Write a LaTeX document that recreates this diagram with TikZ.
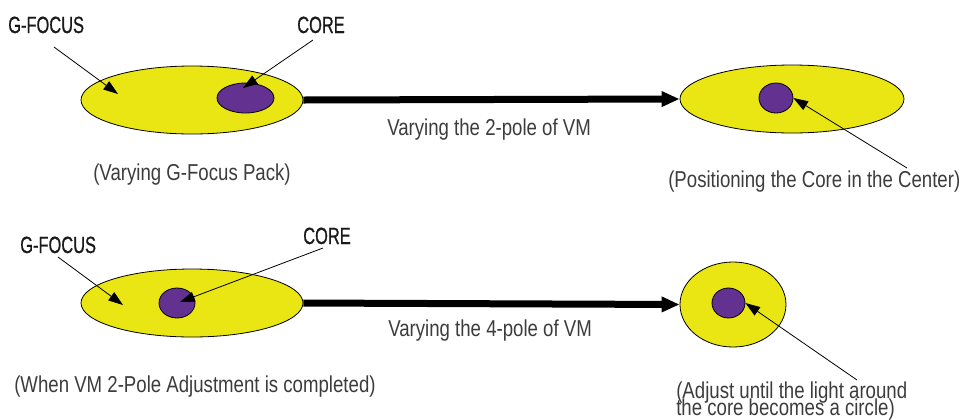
\documentclass[tikz,border=0pt]{standalone}
\usepackage{fontspec}
\setmainfont[FakeStretch=0.81]{Liberation Sans}
\newfontfamily\labfont[FakeStretch=0.7,FakeBold=0.8]{Liberation Sans}
\usetikzlibrary{shapes.geometric,arrows.meta}
\definecolor{gyellow}{RGB}{234,230,20}
\definecolor{cpurple}{RGB}{99,50,145}
\definecolor{bodytext}{RGB}{60,60,60}
\definecolor{labtext}{RGB}{25,25,25}
\newcommand\mytightlines{\lineskiplimit=-20pt\relax\lineskip=0pt\relax}
\begin{document}
\begin{tikzpicture}[x=0.75pt,y=-0.75pt,
  pack/.style={ellipse,draw=black,line width=0.6pt,fill=gyellow,inner sep=0pt},
  corebox/.style={ellipse,draw=black,line width=0.6pt,fill=cpurple,inner sep=0pt},
  labeltext/.style={inner sep=0pt,anchor=base west,text=labtext,font=\labfont\fontsize{17.6pt}{18pt}\selectfont},
  bodylabel/.style={inner sep=0pt,anchor=base west,text=bodytext,font=\fontsize{17.25pt}{12.75pt}\selectfont\mytightlines},
  pointer/.style={draw=black,line width=0.6pt,-{Triangle[length=11pt,width=7.5pt]}},
  bigarrow/.style={draw=black,line width=5.25pt,-{Triangle[length=13.5pt,width=11pt]}}]
\useasboundingbox (0,0) rectangle (965,419);

% Row 1
\node[pack,minimum width=166.5pt,minimum height=51pt] (g1) at (192,100) {};
\node[corebox,minimum width=42.75pt,minimum height=22.5pt] (c1) at (245.5,98) {};
\node[pack,minimum width=168pt,minimum height=51pt] (g2) at (792,99) {};
\node[corebox,minimum width=25.5pt,minimum height=22.5pt] (c2) at (776,98) {};

\node[labeltext] (lg1) at (8,33) {G-FOCUS};
\node[labeltext] (lc1) at (297,33) {CORE};
\coordinate (lg1s) at (54,47);
\coordinate (lg1t) at (118,94);
\coordinate (lc1s) at (313,40);
\coordinate (lc1t) at (243,88);
\draw[pointer] (lg1s) -- (lg1t);
\draw[pointer] (lc1s) -- (lc1t);

\draw[bigarrow] (g1.east) -- (g2.west);
\node[bodylabel] (t1) at (387,135) {Varying the 2-pole of VM};
\node[bodylabel] (t2) at (93,180) {(Varying G-Focus Pack)};
\node[bodylabel] (t3) at (668,187) {(Positioning the Core in the Center)};
\coordinate (p1s) at (907,168);
\draw[pointer] (p1s) -- (c2.east);

% Row 2
\node[pack,minimum width=166.5pt,minimum height=51pt] (g3) at (192,303) {};
\node[corebox,minimum width=27pt,minimum height=22.5pt] (c3) at (177,303) {};
\node[pack,minimum width=79.5pt,minimum height=63.75pt] (g4) at (733,304.5) {};
\node[corebox,minimum width=24.75pt,minimum height=22.5pt] (c4) at (728.5,303) {};

\node[labeltext] (lg3) at (20,253) {G-FOCUS};
\node[labeltext] (lc3) at (303,244) {CORE};
\coordinate (lg3s) at (58,257);
\coordinate (lg3t) at (123,305);
\coordinate (lc3s) at (323,248);
\coordinate (lc3t) at (180,302);
\draw[pointer] (lg3s) -- (lg3t);
\draw[pointer] (lc3s) -- (lc3t);

\draw[bigarrow] (g3.east) -- (g4.west);
\node[bodylabel] (t4) at (388,336) {Varying the 4-pole of VM};
\node[bodylabel] (t5) at (14,392) {(When VM 2-Pole Adjustment is completed)};
\node[bodylabel,align=left] (t6) at (676,415) {(Adjust until the light around\\the core becomes a circle)};
\coordinate (p2s) at (857,380);
\draw[pointer] (p2s) -- (c4.east);
\end{tikzpicture}
\end{document}
